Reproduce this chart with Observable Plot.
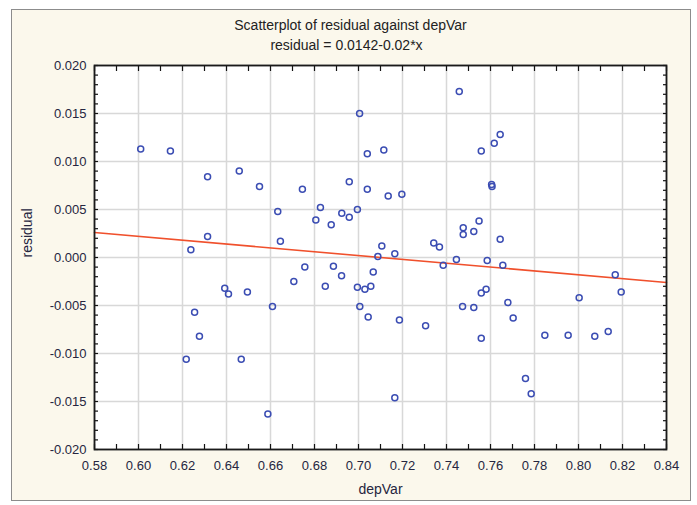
<!DOCTYPE html>
<html>
<head>
<meta charset="utf-8">
<script src="https://cdn.jsdelivr.net/npm/d3@7"></script>
<script src="https://cdn.jsdelivr.net/npm/@observablehq/plot@0.6"></script>
<style>
  html, body { margin: 0; padding: 0; background: #ffffff; }
  #wrap { position: relative; width: 697px; height: 505px; overflow: hidden; }
  #panel { position: absolute; left: 11px; top: 9px; width: 678px; height: 490px;
           border: 1px solid #8c8c8c; background: #fbf8ec; }
  #chart { position: absolute; left: 0; top: 0; }
</style>
</head>
<body>
<div id="wrap">
  <div id="panel"></div>
  <div id="chart"></div>
</div>
<script>
// ---- data ----
const depVar = [
  0.601, 0.6145, 0.6314, 0.6458, 0.655, 0.6633, 0.6314, 0.6238, 0.6645,
  0.7458, 0.7005, 0.704, 0.7115, 0.6958, 0.6745, 0.704, 0.7135, 0.7197,
  0.6827, 0.6806, 0.6924, 0.6958, 0.6995, 0.6876, 0.7476, 0.7476, 0.7106,
  0.7342, 0.7368, 0.7088, 0.7165, 0.7445, 0.7644, 0.7617, 0.7558, 0.7605,
  0.7607, 0.7548, 0.7524, 0.7644, 0.6392, 0.6409, 0.6495, 0.6255, 0.6609,
  0.6277, 0.6217, 0.6467, 0.6588, 0.7385, 0.6756, 0.6886, 0.6923, 0.7067,
  0.6706, 0.6849, 0.6995, 0.7029, 0.7056, 0.7006, 0.7044, 0.7186, 0.7305,
  0.7473, 0.7165, 0.7585, 0.7656, 0.8167, 0.8194, 0.7558, 0.7580, 0.7524,
  0.7679, 0.7703, 0.8003, 0.7558, 0.7847, 0.7953, 0.8074, 0.8135, 0.7759,
  0.7785
];
const residual = [
  0.0113, 0.0111, 0.0084, 0.0090, 0.0074, 0.0048, 0.0022, 0.0008, 0.0017,
  0.0173, 0.0150, 0.0108, 0.0112, 0.0079, 0.0071, 0.0071, 0.0064, 0.0066,
  0.0052, 0.0039, 0.0046, 0.0042, 0.0050, 0.0034, 0.0031, 0.0024, 0.0012,
  0.0015, 0.0011, 0.0001, 0.0004, -0.0002, 0.0128, 0.0119, 0.0111, 0.0076,
  0.0074, 0.0038, 0.0027, 0.0019, -0.0032, -0.0038, -0.0036, -0.0057, -0.0051,
  -0.0082, -0.0106, -0.0106, -0.0163, -0.0008, -0.0010, -0.0009, -0.0019, -0.0015,
  -0.0025, -0.0030, -0.0031, -0.0033, -0.0030, -0.0051, -0.0062, -0.0065, -0.0071,
  -0.0051, -0.0146, -0.0003, -0.0008, -0.0018, -0.0036, -0.0037, -0.0033, -0.0052,
  -0.0047, -0.0063, -0.0042, -0.0084, -0.0081, -0.0081, -0.0082, -0.0077, -0.0126,
  -0.0142
];
// fitted line from the subtitle: residual = 0.0142 - 0.02*x
const fitIntercept = 0.0142;
const fitSlope = -0.02;

const xTicks = [0.58, 0.60, 0.62, 0.64, 0.66, 0.68, 0.70, 0.72, 0.74, 0.76, 0.78, 0.80, 0.82, 0.84];
const yTicks = [-0.020, -0.015, -0.010, -0.005, 0.000, 0.005, 0.010, 0.015, 0.020];
const xDomain = [0.58, 0.84];
const yDomain = [-0.02, 0.02];

const titleText = "Scatterplot of residual against depVar";
const subtitleText = "residual = 0.0142-0.02*x";
const xLabel = "depVar";
const yLabel = "residual";

// ---- derived tables ----
const points = depVar.map((x, i) => ({x, y: residual[i]}));
const fit = xDomain.map(x => ({x, y: fitIntercept + fitSlope * x}));
const xMinor = d3.range(58, 85, 1).map(v => v / 100);
const yMinor = d3.range(-20, 21, 1).map(v => v / 1000);

const font = "'Liberation Sans', Arial, sans-serif";
const labelColor = "#262640";
const dotColor = "#3b4db3";

const chart = Plot.plot({
  width: 697,
  height: 505,
  marginLeft: 94,
  marginRight: 31,
  marginTop: 65,
  marginBottom: 56,
  style: {background: "transparent", fontFamily: font, fontSize: "13px", color: labelColor},
  x: {domain: xDomain, ticks: xTicks, label: null},
  y: {domain: yDomain, ticks: yTicks, label: null},
  marks: [
    Plot.frame({fill: "white", stroke: null}),
    Plot.gridX(xTicks, {stroke: "#d8d8d8", strokeOpacity: 1, strokeWidth: 1.5}),
    Plot.gridY(yTicks, {stroke: "#d8d8d8", strokeOpacity: 1, strokeWidth: 1.5}),
    // inward tick marks
    Plot.axisX(xMinor, {anchor: "bottom", tickSize: -5, fill: "none", stroke: "#111", strokeWidth: 1.2, label: null}),
    Plot.axisX(xMinor, {anchor: "top", tickSize: -5, fill: "none", stroke: "#111", strokeWidth: 1.2, label: null}),
    Plot.axisY(yMinor, {anchor: "left", tickSize: -4, fill: "none", stroke: "#111", strokeWidth: 1.2, label: null}),
    Plot.axisY(yMinor, {anchor: "right", tickSize: -4, fill: "none", stroke: "#111", strokeWidth: 1.2, label: null}),
    // tick labels
    Plot.axisX(xTicks, {anchor: "bottom", tickSize: 0, tickPadding: 11, tickFormat: d => d.toFixed(2), fill: labelColor, fontSize: 13, label: null}),
    Plot.axisY(yTicks, {anchor: "left", tickSize: 0, tickPadding: 8, tickFormat: d => d.toFixed(3), fill: labelColor, fontSize: 13, label: null}),
    Plot.line(fit, {x: "x", y: "y", stroke: "#f0502c", strokeWidth: 1.6}),
    Plot.dot(points, {x: "x", y: "y", r: 3, stroke: dotColor, strokeWidth: 1.5, fill: "none"}),
    Plot.frame({stroke: "#1a1a1a", strokeWidth: 1.8}),
    // titles and axis labels
    Plot.text([titleText], {frameAnchor: "top", dx: -30, dy: -40, text: d => d, fontSize: 14, fill: "#222", lineAnchor: "middle"}),
    Plot.text([subtitleText], {frameAnchor: "top", dx: -34, dy: -20, text: d => d, fontSize: 14, fill: "#222", lineAnchor: "middle"}),
    Plot.text([xLabel], {frameAnchor: "bottom", dy: 40, text: d => d, fontSize: 14, fill: labelColor, lineAnchor: "middle"}),
    Plot.text([yLabel], {frameAnchor: "left", dx: -67, rotate: -90, text: d => d, fontSize: 14, fill: labelColor, lineAnchor: "middle"})
  ]
});
document.getElementById("chart").appendChild(chart);
</script>
</body>
</html>
